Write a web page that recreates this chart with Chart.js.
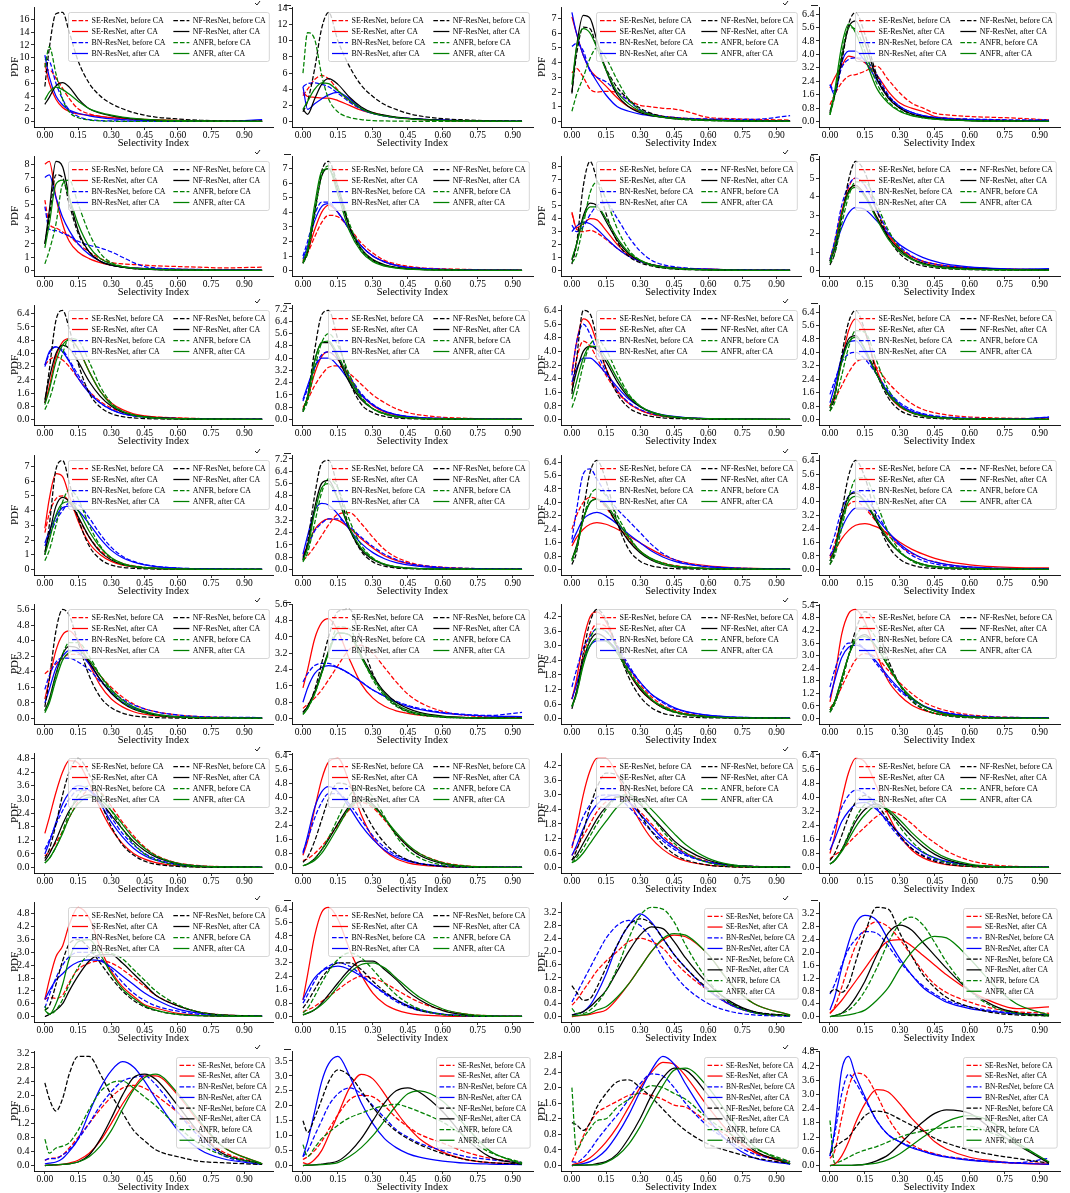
<!DOCTYPE html>
<html><head><meta charset="utf-8">
<script src="https://cdn.jsdelivr.net/npm/chart.js@4.4.0/dist/chart.umd.min.js"></script>
<style>
html,body{margin:0;padding:0;background:#fff;}
#wrap{position:relative;width:1070px;height:1193px;overflow:hidden;background:#fff;}
#wrap canvas{position:absolute;}
</style></head><body><div id="wrap"></div>
<script>
// ---------- shared data ----------
const X_GRID = [0, 0.02, 0.05, 0.08, 0.11, 0.15, 0.2, 0.25, 0.3, 0.35, 0.4, 0.45, 0.5, 0.6, 0.7, 0.8];
const X_END = [0.98, 0.94, 0.96, 0.94];
const X_TICKS = [0, 0.15, 0.30, 0.45, 0.60, 0.75, 0.90];
const NAMES = ['SE-ResNet, before CA','SE-ResNet, after CA','BN-ResNet, before CA','BN-ResNet, after CA','NF-ResNet, before CA','NF-ResNet, after CA','ANFR, before CA','ANFR, after CA'];
const COLORS = ['#ff0000','#ff0000','#0000ff','#0000ff','#000000','#000000','#008000','#008000'];
const DASHED = [true,false,true,false,true,false,true,false];

// y tick label sets
const YT_18 = ['0','2','4','6','8','10','12','14','16','18'];
const YT_14 = ['0','2','4','6','8','10','12','14'];
const YT_7 = ['0','1','2','3','4','5','6','7'];
const YT_8 = ['0','1','2','3','4','5','6','7','8'];
const YT_6 = ['0','1','2','3','4','5','6'];
const YT_64 = ['0.0','0.8','1.6','2.4','3.2','4.0','4.8','5.6','6.4'];
const YT_72 = ['0.0','0.8','1.6','2.4','3.2','4.0','4.8','5.6','6.4','7.2'];
const YT_56 = ['0.0','0.8','1.6','2.4','3.2','4.0','4.8','5.6'];
const YT_42 = ['0.0','0.6','1.2','1.8','2.4','3.0','3.6','4.2'];
const YT_54 = ['0.0','0.6','1.2','1.8','2.4','3.0','3.6','4.2','4.8','5.4'];
const YT_48 = ['0.0','0.6','1.2','1.8','2.4','3.0','3.6','4.2','4.8'];
const YT_32 = ['0.0','0.4','0.8','1.2','1.6','2.0','2.4','2.8','3.2'];
const YT_36 = ['0.0','0.4','0.8','1.2','1.6','2.0','2.4','2.8','3.2','3.6'];
const YT_35 = ['0.0','0.5','1.0','1.5','2.0','2.5','3.0','3.5'];
const YT_28 = ['0.0','0.4','0.8','1.2','1.6','2.0','2.4','2.8'];

const Y_TICKS = [YT_18,YT_14,YT_7,YT_64, YT_8,YT_7,YT_8,YT_6, YT_64,YT_72,YT_64,YT_64, YT_7,YT_72,YT_64,YT_64,
                 YT_56,YT_56,YT_42,YT_54, YT_48,YT_64,YT_42,YT_64, YT_48,YT_64,YT_32,YT_36, YT_32,YT_35,YT_28,YT_48];
const LEGEND_COLS = [2,2,2,2, 2,2,2,2, 2,2,2,2, 2,2,2,2, 2,2,2,2, 2,2,2,2, 2,2,1,1, 1,1,1,1];

// series order: SE before, SE after, BN before, BN after, NF before, NF after, ANFR before, ANFR after
const r1c1 = [
 [7.8,8.1,6.8,5.2,3.6,2.0,1.2,0.8,0.6,0.45,0.35,0.28,0.22,0.15,0.1,0.07,0.05],
 [9.2,6.0,3.5,2.2,1.6,1.2,1.0,0.8,0.6,0.5,0.4,0.33,0.27,0.18,0.12,0.08,0.05],
 [9.8,9.5,6.0,3.5,1.8,0.8,0.3,0.15,0.1,0.08,0.06,0.05,0.04,0.03,0.03,0.02,0.02],
 [10.4,7.0,4.0,2.6,1.8,1.3,0.9,0.6,0.4,0.3,0.22,0.17,0.13,0.09,0.06,0.05,0.3],
 [5.5,11.5,16.9,17.1,14.0,9.5,6.0,4.0,2.8,2.0,1.4,1.0,0.7,0.4,0.2,0.1,0.05],
 [2.7,3.8,5.6,6.1,5.4,3.6,2.0,1.3,0.9,0.6,0.4,0.3,0.2,0.1,0.05,0.03,0.02],
 [8.5,11.7,7.5,3.5,1.5,0.6,0.25,0.1,0.05,0.03,0.02,0.02,0.01,0.01,0.01,0.01,0.01],
 [3.4,4.6,5.4,5.0,4.3,3.2,2.0,1.4,1.0,0.7,0.5,0.35,0.25,0.15,0.1,0.06,0.04]];
const r1c2 = [
 [3.2,4.0,5.2,5.7,5.3,3.9,2.5,1.6,1.1,0.75,0.5,0.35,0.25,0.15,0.1,0.05,0.03],
 [3.6,3.1,3.0,2.9,2.9,2.6,2.0,1.4,1.0,0.7,0.5,0.4,0.3,0.15,0.08,0.05,0.03],
 [4.3,4.7,4.8,4.6,4.3,3.5,2.4,1.5,1.0,0.7,0.5,0.4,0.3,0.2,0.1,0.07,0.05],
 [4.3,1.5,2.2,2.8,3.3,3.6,2.8,1.6,1.0,0.7,0.5,0.4,0.3,0.2,0.1,0.07,0.05],
 [1.2,2.5,6.5,11.5,13.5,10.0,6.8,4.5,3.1,2.1,1.5,1.0,0.7,0.35,0.2,0.1,0.05],
 [1.5,0.9,2.8,4.6,5.3,4.6,3.0,1.8,1.1,0.8,0.55,0.4,0.3,0.15,0.1,0.05,0.03],
 [6.0,11.0,10.2,5.8,2.8,1.2,0.5,0.25,0.12,0.08,0.05,0.04,0.03,0.02,0.02,0.01,0.01],
 [1.5,2.5,4.0,4.8,4.7,3.8,2.6,1.6,1.0,0.7,0.5,0.35,0.25,0.12,0.07,0.04,0.02]];
const r1c3 = [
 [3.3,3.6,3.0,2.2,2.0,2.05,1.95,1.45,1.1,1.0,0.9,0.85,0.7,0.28,0.2,0.15,0.1],
 [7.1,6.0,4.5,3.5,3.0,2.4,1.6,1.0,0.7,0.5,0.35,0.28,0.22,0.15,0.1,0.07,0.05],
 [5.1,5.3,4.8,3.4,3.0,2.7,2.0,1.4,0.8,0.5,0.35,0.28,0.22,0.18,0.15,0.15,0.4],
 [7.4,6.0,4.5,3.5,2.7,1.8,1.0,0.7,0.5,0.38,0.3,0.22,0.18,0.12,0.08,0.06,0.05],
 [2.0,4.5,6.4,6.3,5.0,3.6,2.3,1.5,0.9,0.55,0.35,0.25,0.18,0.1,0.06,0.04,0.03],
 [1.9,5.0,7.2,7.0,5.5,3.5,1.8,1.0,0.6,0.4,0.28,0.2,0.15,0.08,0.05,0.03,0.02],
 [0.7,1.8,3.0,4.3,5.0,4.3,2.8,1.5,0.8,0.45,0.28,0.18,0.12,0.06,0.04,0.03,0.02],
 [2.5,5.0,6.3,6.0,5.0,3.5,2.0,1.2,0.7,0.45,0.3,0.22,0.16,0.09,0.05,0.03,0.02]];
const r1c4 = [
 [1.0,1.6,2.3,2.7,2.8,3.0,3.3,2.5,1.7,1.1,0.8,0.5,0.4,0.3,0.25,0.2,0.1],
 [2.0,2.6,3.3,3.9,3.8,3.5,2.8,1.8,1.1,0.8,0.6,0.3,0.2,0.12,0.08,0.05,0.04],
 [2.2,1.8,3.2,3.7,3.8,3.7,2.8,1.6,0.9,0.55,0.35,0.25,0.2,0.15,0.12,0.1,0.1],
 [2.2,1.6,3.5,4.2,4.2,3.6,2.5,1.5,0.9,0.55,0.35,0.25,0.18,0.12,0.08,0.06,0.05],
 [0.5,1.5,3.5,5.8,6.5,5.2,2.8,1.5,0.8,0.45,0.28,0.18,0.12,0.06,0.03,0.02,0.01],
 [0.6,1.6,3.8,5.6,6.0,4.7,2.6,1.4,0.8,0.45,0.28,0.18,0.12,0.06,0.03,0.02,0.01],
 [0.4,1.5,4.0,5.6,5.5,4.2,2.3,1.2,0.65,0.38,0.22,0.14,0.1,0.05,0.03,0.02,0.01],
 [0.4,1.8,4.5,5.8,5.3,3.8,2.0,1.1,0.6,0.35,0.22,0.14,0.1,0.05,0.03,0.02,0.01]];
const r2c1 = [
 [5.3,3.5,3.2,2.9,2.6,2.0,1.4,0.9,0.6,0.5,0.45,0.4,0.35,0.3,0.25,0.2,0.25],
 [8.0,8.2,5.5,3.5,2.2,1.4,0.9,0.6,0.4,0.28,0.2,0.15,0.12,0.08,0.06,0.05,0.04],
 [4.8,3.1,3.0,2.8,2.6,2.2,1.9,1.7,1.4,1.0,0.6,0.3,0.2,0.1,0.08,0.06,0.05],
 [7.0,7.2,5.5,4.0,3.0,2.0,1.2,0.7,0.4,0.28,0.2,0.15,0.12,0.08,0.06,0.05,0.04],
 [2.0,4.0,7.2,7.0,5.0,2.8,1.4,0.7,0.4,0.25,0.15,0.1,0.07,0.04,0.03,0.02,0.01],
 [2.0,4.5,8.2,7.8,5.5,3.0,1.4,0.7,0.4,0.25,0.15,0.1,0.07,0.04,0.03,0.02,0.01],
 [0.5,1.5,3.5,6.5,6.8,5.0,2.8,1.3,0.6,0.3,0.18,0.12,0.08,0.04,0.03,0.02,0.01],
 [1.7,3.5,6.5,6.8,5.5,3.5,1.8,0.9,0.5,0.3,0.18,0.12,0.08,0.04,0.03,0.02,0.01]];
const r2c2 = [
 [0.7,1.2,2.3,3.3,3.8,3.7,2.9,1.9,1.2,0.7,0.45,0.3,0.2,0.12,0.08,0.05,0.03],
 [0.6,1.3,2.8,4.0,4.5,4.0,2.8,1.7,1.0,0.6,0.35,0.22,0.15,0.08,0.05,0.03,0.02],
 [1.0,2.0,3.8,4.7,4.7,4.0,2.8,1.7,1.0,0.6,0.35,0.22,0.15,0.08,0.05,0.03,0.02],
 [0.8,1.7,3.4,4.4,4.6,4.0,2.8,1.7,1.0,0.6,0.35,0.22,0.15,0.08,0.05,0.03,0.02],
 [0.5,1.2,3.8,6.8,7.5,5.8,3.0,1.4,0.7,0.35,0.2,0.12,0.08,0.04,0.02,0.01,0.01],
 [0.5,1.3,4.0,6.5,7.0,5.5,3.0,1.5,0.75,0.4,0.22,0.13,0.08,0.04,0.02,0.01,0.01],
 [0.5,1.2,3.9,6.5,7.2,5.8,3.2,1.5,0.7,0.35,0.2,0.12,0.08,0.04,0.02,0.01,0.01],
 [0.6,1.5,4.5,6.8,7.0,5.2,2.7,1.3,0.6,0.3,0.17,0.1,0.06,0.03,0.02,0.01,0.01]];
const r2c3 = [
 [4.4,3.2,3.0,3.1,2.9,2.4,1.7,1.1,0.7,0.45,0.3,0.2,0.15,0.1,0.06,0.04,0.03],
 [4.5,3.3,3.6,4.0,3.9,3.1,2.0,1.2,0.75,0.45,0.3,0.2,0.15,0.1,0.06,0.04,0.03],
 [3.5,3.0,3.4,4.3,5.0,5.2,4.0,2.6,1.5,0.8,0.45,0.3,0.2,0.1,0.06,0.04,0.03],
 [3.0,3.4,3.7,3.6,3.2,2.5,1.7,1.1,0.7,0.45,0.3,0.2,0.15,0.1,0.06,0.04,0.03],
 [0.5,2.0,6.5,8.4,7.0,4.4,2.2,1.1,0.6,0.35,0.2,0.12,0.08,0.04,0.02,0.01,0.01],
 [0.8,2.0,4.2,5.2,5.0,3.8,2.3,1.3,0.75,0.45,0.28,0.18,0.12,0.06,0.03,0.02,0.01],
 [0.6,1.2,3.5,6.0,6.8,5.5,3.2,1.6,0.8,0.4,0.22,0.13,0.08,0.04,0.02,0.01,0.01],
 [0.9,2.0,4.0,4.9,4.9,4.0,2.5,1.4,0.8,0.45,0.28,0.18,0.12,0.06,0.03,0.02,0.01]];
const r2c4 = [
 [0.5,1.2,3.0,4.5,5.0,4.6,3.3,2.0,1.2,0.75,0.5,0.35,0.25,0.15,0.1,0.07,0.05],
 [0.6,1.5,3.2,4.3,4.6,4.0,2.9,1.9,1.2,0.75,0.5,0.35,0.25,0.15,0.1,0.07,0.05],
 [0.6,1.6,3.5,4.6,5.0,4.6,3.3,2.1,1.3,0.8,0.5,0.35,0.25,0.15,0.1,0.07,0.05],
 [0.5,1.2,2.3,3.1,3.4,3.3,2.7,2.0,1.4,1.0,0.7,0.5,0.35,0.2,0.12,0.08,0.1],
 [0.3,0.9,2.8,4.9,5.9,5.3,3.3,1.8,0.9,0.45,0.25,0.15,0.1,0.05,0.03,0.02,0.01],
 [0.5,1.2,3.0,4.3,4.6,4.1,2.9,1.8,1.1,0.65,0.4,0.25,0.18,0.1,0.06,0.04,0.03],
 [0.4,0.9,2.5,4.0,4.8,4.8,3.6,2.2,1.2,0.65,0.35,0.2,0.12,0.06,0.03,0.02,0.01],
 [0.5,1.3,3.0,4.2,4.5,4.0,2.8,1.7,1.0,0.6,0.35,0.22,0.15,0.08,0.05,0.03,0.02]];
const r3c1 = [
 [3.3,3.6,3.8,3.6,3.2,2.5,1.7,1.1,0.7,0.45,0.3,0.2,0.15,0.1,0.06,0.04,0.03],
 [1.0,2.0,3.8,4.7,4.9,4.3,2.9,1.7,1.0,0.6,0.35,0.22,0.15,0.08,0.05,0.03,0.02],
 [3.2,4.0,4.4,4.2,3.6,2.7,1.7,1.0,0.6,0.35,0.22,0.15,0.1,0.06,0.04,0.03,0.02],
 [3.3,4.1,4.4,4.1,3.5,2.5,1.6,1.0,0.6,0.35,0.22,0.15,0.1,0.06,0.04,0.03,0.02],
 [1.0,3.0,6.0,6.6,5.5,3.4,1.6,0.75,0.35,0.18,0.1,0.06,0.04,0.02,0.01,0.01,0.01],
 [1.2,2.5,4.0,4.5,4.3,3.5,2.3,1.4,0.8,0.45,0.27,0.17,0.11,0.06,0.03,0.02,0.01],
 [0.6,1.2,2.6,4.0,4.9,4.8,3.5,2.0,1.0,0.5,0.25,0.14,0.08,0.04,0.02,0.01,0.01],
 [0.9,1.8,3.5,4.5,4.8,4.3,2.9,1.7,0.9,0.5,0.28,0.17,0.1,0.05,0.03,0.02,0.01]];
const r3c2 = [
 [0.8,1.3,2.2,2.9,3.4,3.5,3.0,2.3,1.6,1.1,0.7,0.45,0.3,0.15,0.08,0.05,0.03],
 [0.7,1.4,3.0,4.1,4.4,3.9,2.7,1.6,0.9,0.5,0.3,0.18,0.12,0.06,0.04,0.02,0.02],
 [1.2,2.0,3.4,4.2,4.4,3.9,2.8,1.7,1.0,0.55,0.32,0.2,0.13,0.07,0.04,0.02,0.02],
 [1.3,2.2,3.4,4.0,4.0,3.5,2.5,1.6,0.95,0.55,0.32,0.2,0.13,0.07,0.04,0.02,0.02],
 [0.5,1.5,4.5,6.8,7.1,5.2,2.5,1.0,0.45,0.2,0.1,0.06,0.04,0.02,0.01,0.01,0.01],
 [0.6,1.5,3.8,5.0,5.0,4.0,2.4,1.3,0.7,0.38,0.2,0.12,0.08,0.04,0.02,0.01,0.01],
 [0.5,1.2,3.3,5.0,5.6,4.8,2.9,1.5,0.7,0.35,0.18,0.1,0.06,0.03,0.02,0.01,0.01],
 [0.6,1.5,3.8,5.0,5.1,4.2,2.6,1.4,0.7,0.38,0.2,0.12,0.08,0.04,0.02,0.01,0.01]];
const r3c3 = [
 [2.0,3.5,4.6,4.3,3.6,2.6,1.6,0.95,0.55,0.32,0.2,0.13,0.09,0.05,0.03,0.02,0.01],
 [2.8,4.5,5.9,5.6,4.5,3.0,1.7,0.95,0.55,0.32,0.2,0.13,0.09,0.05,0.03,0.02,0.01],
 [2.6,4.5,5.6,5.0,4.0,2.8,1.7,1.0,0.6,0.35,0.22,0.14,0.09,0.05,0.03,0.02,0.01],
 [2.2,3.0,3.6,3.6,3.3,2.7,1.9,1.2,0.75,0.45,0.28,0.18,0.12,0.06,0.03,0.02,0.01],
 [1.5,3.5,6.4,6.2,4.8,3.0,1.5,0.7,0.35,0.18,0.1,0.06,0.04,0.02,0.01,0.01,0.01],
 [1.7,2.8,4.0,4.3,4.1,3.4,2.2,1.3,0.75,0.42,0.25,0.15,0.1,0.05,0.03,0.02,0.01],
 [0.7,1.5,3.2,4.4,4.7,4.1,2.7,1.5,0.8,0.42,0.22,0.13,0.08,0.04,0.02,0.01,0.01],
 [1.2,2.2,3.6,4.3,4.3,3.6,2.4,1.4,0.8,0.45,0.26,0.16,0.1,0.05,0.03,0.02,0.01]];
const r3c4 = [
 [0.8,1.2,2.0,2.8,3.4,3.6,3.1,2.2,1.5,0.95,0.6,0.4,0.28,0.15,0.1,0.07,0.05],
 [0.8,1.5,3.5,5.3,6.0,5.2,3.0,1.5,0.75,0.4,0.22,0.13,0.09,0.05,0.03,0.02,0.01],
 [1.5,2.3,3.4,3.9,4.0,3.6,2.7,1.7,1.0,0.6,0.35,0.22,0.15,0.08,0.05,0.03,0.15],
 [1.0,2.0,3.7,4.6,4.7,4.0,2.7,1.6,0.9,0.5,0.3,0.18,0.12,0.06,0.04,0.03,0.15],
 [0.5,1.3,3.8,5.8,6.5,5.3,2.8,1.3,0.55,0.25,0.12,0.07,0.04,0.02,0.01,0.01,0.01],
 [0.7,1.5,3.5,4.8,5.0,4.2,2.7,1.5,0.8,0.42,0.23,0.14,0.09,0.04,0.02,0.01,0.01],
 [0.5,1.0,2.6,4.3,5.3,5.2,3.5,1.8,0.85,0.4,0.2,0.11,0.07,0.03,0.02,0.01,0.01],
 [0.7,1.5,3.4,4.6,4.9,4.2,2.7,1.5,0.8,0.42,0.23,0.14,0.09,0.04,0.02,0.01,0.01]];
const r4c1 = [
 [2.5,3.8,4.8,5.0,4.6,3.5,2.2,1.3,0.75,0.42,0.25,0.15,0.1,0.05,0.03,0.02,0.01],
 [2.8,4.8,6.5,6.3,5.0,3.3,1.8,1.0,0.55,0.3,0.18,0.11,0.07,0.04,0.02,0.01,0.01],
 [1.6,2.3,3.3,4.0,4.5,4.4,3.5,2.4,1.5,0.9,0.55,0.35,0.22,0.1,0.06,0.04,0.03],
 [1.8,2.6,3.6,4.2,4.3,4.0,3.1,2.1,1.3,0.8,0.5,0.32,0.2,0.1,0.06,0.04,0.03],
 [1.0,3.0,6.8,7.4,5.9,3.5,1.6,0.7,0.3,0.15,0.08,0.05,0.03,0.02,0.01,0.01,0.01],
 [1.2,2.4,4.3,4.9,4.6,3.6,2.2,1.2,0.65,0.35,0.2,0.12,0.08,0.04,0.02,0.01,0.01],
 [0.6,1.3,3.0,4.6,5.4,4.8,3.0,1.6,0.75,0.35,0.18,0.1,0.06,0.03,0.02,0.01,0.01],
 [1.0,2.0,3.7,4.5,4.6,4.0,2.6,1.5,0.8,0.42,0.23,0.14,0.09,0.04,0.02,0.01,0.01]];
const r4c2 = [
 [0.6,0.9,1.5,2.2,2.9,3.6,3.7,3.0,2.1,1.3,0.8,0.5,0.3,0.15,0.08,0.05,0.03],
 [0.9,1.6,2.6,3.1,3.3,3.2,2.7,2.0,1.4,0.9,0.6,0.4,0.25,0.12,0.06,0.04,0.03],
 [0.8,1.5,2.5,3.0,3.3,3.3,2.8,2.1,1.5,1.0,0.65,0.42,0.28,0.14,0.08,0.05,0.04],
 [1.0,2.2,3.8,4.3,4.2,3.6,2.6,1.7,1.1,0.7,0.45,0.3,0.2,0.1,0.06,0.04,0.03],
 [0.6,1.8,4.8,6.9,7.1,5.3,2.7,1.2,0.5,0.22,0.1,0.06,0.04,0.02,0.01,0.01,0.01],
 [0.7,1.6,4.0,5.6,5.8,4.6,2.6,1.3,0.65,0.32,0.17,0.1,0.06,0.03,0.02,0.01,0.01],
 [0.5,1.1,3.0,5.0,5.9,5.3,3.2,1.6,0.75,0.35,0.17,0.1,0.06,0.03,0.02,0.01,0.01],
 [0.6,1.4,3.7,5.3,5.6,4.6,2.7,1.4,0.7,0.35,0.18,0.1,0.06,0.03,0.02,0.01,0.01]];
const r4c3 = [
 [2.4,3.2,4.0,4.3,4.2,3.7,2.7,1.8,1.1,0.65,0.4,0.25,0.16,0.08,0.05,0.03,0.02],
 [1.4,1.9,2.4,2.7,2.8,2.7,2.4,2.0,1.6,1.2,0.85,0.6,0.42,0.22,0.12,0.07,0.05],
 [1.8,3.5,5.7,6.0,5.4,4.5,3.6,2.9,2.2,1.5,0.95,0.6,0.38,0.18,0.1,0.06,0.04],
 [1.6,2.2,3.0,3.3,3.4,3.2,2.7,2.1,1.6,1.1,0.75,0.5,0.33,0.16,0.09,0.06,0.04],
 [0.3,1.0,3.5,5.8,6.5,5.3,2.8,1.2,0.5,0.22,0.1,0.06,0.04,0.02,0.01,0.01,0.01],
 [0.6,1.4,3.0,4.0,4.2,3.8,2.7,1.7,1.0,0.55,0.3,0.18,0.11,0.05,0.03,0.02,0.01],
 [0.5,1.2,3.0,4.4,4.8,4.4,3.2,2.0,1.1,0.6,0.32,0.18,0.11,0.05,0.03,0.02,0.01],
 [0.6,1.3,3.0,4.0,4.2,3.9,2.9,1.9,1.1,0.65,0.38,0.22,0.14,0.06,0.03,0.02,0.01]];
const r4c4 = [
 [0.8,1.5,3.0,3.8,4.0,3.6,2.8,2.0,1.4,0.95,0.65,0.45,0.3,0.15,0.08,0.05,0.03],
 [0.7,1.1,1.8,2.3,2.6,2.7,2.5,2.1,1.6,1.2,0.9,0.65,0.48,0.28,0.17,0.12,0.1],
 [1.2,2.0,3.5,4.3,4.6,4.3,3.3,2.2,1.4,0.85,0.52,0.33,0.22,0.1,0.06,0.04,0.03],
 [0.8,1.3,2.4,3.2,3.6,3.6,3.0,2.2,1.5,1.0,0.65,0.43,0.3,0.15,0.09,0.06,0.05],
 [0.3,1.0,3.3,5.5,6.4,5.4,3.0,1.4,0.6,0.27,0.12,0.07,0.04,0.02,0.01,0.01,0.01],
 [0.5,1.2,3.0,4.3,4.5,4.0,2.8,1.7,1.0,0.55,0.3,0.18,0.11,0.05,0.03,0.02,0.01],
 [0.3,0.8,2.4,4.2,5.3,5.4,3.9,2.2,1.1,0.5,0.25,0.13,0.08,0.04,0.02,0.01,0.01],
 [0.5,1.1,2.8,4.0,4.3,4.0,2.9,1.8,1.0,0.55,0.3,0.18,0.11,0.05,0.03,0.02,0.01]];
const r5c1 = [
 [2.3,2.5,2.8,3.1,3.3,3.3,2.9,2.2,1.6,1.1,0.75,0.5,0.35,0.18,0.1,0.06,0.04],
 [1.0,2.0,3.5,4.3,4.5,4.0,2.8,1.7,1.0,0.6,0.35,0.22,0.14,0.07,0.04,0.02,0.01],
 [1.5,2.2,2.9,3.1,3.1,2.9,2.5,1.9,1.4,1.0,0.7,0.5,0.35,0.18,0.1,0.07,0.05],
 [0.8,1.5,2.6,3.2,3.5,3.4,2.8,2.0,1.3,0.85,0.55,0.35,0.22,0.1,0.06,0.04,0.03],
 [0.6,2.0,4.5,5.6,5.3,3.9,2.2,1.1,0.55,0.28,0.14,0.08,0.05,0.02,0.01,0.01,0.01],
 [0.4,1.0,2.3,3.3,3.7,3.6,2.9,2.0,1.3,0.8,0.48,0.3,0.18,0.08,0.04,0.02,0.01],
 [0.4,0.9,2.2,3.3,3.9,3.9,3.2,2.2,1.4,0.85,0.5,0.3,0.18,0.07,0.03,0.02,0.01],
 [0.3,0.8,2.0,3.0,3.4,3.5,3.0,2.2,1.5,0.95,0.6,0.38,0.23,0.1,0.05,0.03,0.02]];
const r5c2 = [
 [0.5,0.7,1.0,1.4,1.9,2.6,3.4,3.6,3.2,2.5,1.8,1.2,0.8,0.35,0.15,0.08,0.05],
 [1.5,2.4,3.9,4.7,4.9,4.3,2.9,1.7,1.0,0.6,0.38,0.25,0.17,0.09,0.05,0.03,0.02],
 [1.8,2.2,2.6,2.7,2.7,2.5,2.2,1.8,1.4,1.1,0.85,0.65,0.5,0.3,0.2,0.15,0.3],
 [0.8,1.5,2.2,2.5,2.6,2.5,2.2,1.8,1.4,1.1,0.8,0.6,0.45,0.27,0.18,0.12,0.1],
 [0.3,0.6,1.4,2.7,4.0,5.25,5.35,3.8,2.2,1.2,0.65,0.35,0.2,0.07,0.03,0.02,0.01],
 [0.3,0.6,1.3,2.3,3.3,4.2,4.1,3.1,2.1,1.3,0.8,0.5,0.3,0.12,0.05,0.03,0.02],
 [0.2,0.5,1.2,2.2,3.3,4.5,4.4,3.1,1.9,1.1,0.6,0.33,0.18,0.06,0.03,0.02,0.01],
 [0.2,0.5,1.2,2.2,3.2,4.2,4.1,3.0,2.0,1.2,0.7,0.4,0.24,0.09,0.04,0.02,0.01]];
const r5c3 = [
 [0.8,1.4,2.6,3.5,3.9,3.8,3.0,2.1,1.4,0.9,0.55,0.35,0.22,0.1,0.05,0.03,0.02],
 [0.8,1.6,3.2,4.2,4.4,4.0,2.9,1.9,1.2,0.75,0.45,0.28,0.18,0.08,0.04,0.02,0.02],
 [1.3,2.0,2.9,3.4,3.7,3.6,3.0,2.2,1.5,1.0,0.65,0.42,0.28,0.13,0.06,0.04,0.03],
 [0.8,1.4,2.4,3.0,3.2,3.2,2.8,2.1,1.5,1.0,0.7,0.45,0.3,0.14,0.07,0.04,0.03],
 [0.4,1.1,2.7,4.0,4.5,4.1,2.9,1.7,0.9,0.45,0.22,0.12,0.07,0.03,0.02,0.01,0.01],
 [0.5,1.1,2.4,3.2,3.5,3.3,2.7,1.9,1.2,0.75,0.45,0.27,0.17,0.07,0.03,0.02,0.01],
 [0.5,1.0,2.3,3.3,3.7,3.6,2.9,2.0,1.3,0.8,0.45,0.26,0.15,0.06,0.03,0.02,0.01],
 [0.5,1.0,2.2,3.0,3.3,3.2,2.7,1.9,1.3,0.8,0.5,0.3,0.18,0.08,0.04,0.02,0.01]];
const r5c4 = [
 [0.5,0.8,1.5,2.2,2.8,3.1,2.9,2.3,1.7,1.2,0.8,0.55,0.38,0.18,0.09,0.05,0.03],
 [0.8,1.9,4.0,5.0,5.2,4.6,3.1,1.8,1.1,0.65,0.4,0.25,0.16,0.07,0.04,0.02,0.02],
 [1.5,2.3,3.2,3.6,3.6,3.3,2.6,1.9,1.3,0.9,0.6,0.4,0.28,0.13,0.07,0.05,0.04],
 [1.0,1.8,2.9,3.4,3.5,3.3,2.7,2.0,1.4,0.95,0.62,0.4,0.26,0.12,0.06,0.04,0.03],
 [0.3,0.7,1.7,3.0,4.2,5.1,4.4,2.8,1.6,0.85,0.45,0.24,0.13,0.04,0.02,0.01,0.01],
 [0.4,0.8,1.9,3.0,3.7,4.0,3.4,2.5,1.6,1.0,0.6,0.35,0.2,0.08,0.03,0.02,0.01],
 [0.3,0.7,1.7,3.0,3.9,4.4,3.8,2.6,1.6,0.9,0.48,0.25,0.14,0.05,0.02,0.01,0.01],
 [0.4,0.8,1.9,3.0,3.7,3.9,3.4,2.5,1.6,1.0,0.6,0.35,0.2,0.08,0.03,0.02,0.01]];
const r6c1 = [
 [0.5,0.7,1.1,1.6,2.2,2.9,3.4,3.3,2.7,2.0,1.4,0.9,0.55,0.2,0.08,0.04,0.02],
 [1.5,2.2,3.3,4.2,4.7,4.6,3.7,2.6,1.7,1.05,0.62,0.37,0.22,0.08,0.03,0.02,0.01],
 [0.8,1.2,1.9,2.5,3.0,3.4,3.4,2.9,2.2,1.5,1.0,0.62,0.38,0.14,0.05,0.03,0.02],
 [0.6,1.1,2.0,2.8,3.3,3.6,3.4,2.8,2.0,1.35,0.85,0.52,0.32,0.12,0.05,0.03,0.02],
 [0.4,0.8,1.9,3.2,4.2,4.8,4.1,2.9,1.8,1.0,0.55,0.28,0.15,0.05,0.02,0.01,0.01],
 [0.3,0.6,1.2,1.9,2.5,3.0,3.2,2.9,2.3,1.7,1.15,0.75,0.47,0.17,0.06,0.03,0.01],
 [0.2,0.4,0.9,1.6,2.4,3.2,3.6,3.3,2.5,1.7,1.05,0.6,0.34,0.1,0.03,0.02,0.01],
 [0.2,0.4,0.9,1.5,2.2,2.8,3.1,3.0,2.5,1.9,1.3,0.85,0.52,0.18,0.06,0.03,0.01]];
const r6c2 = [
 [0.4,0.5,0.8,1.2,1.7,2.4,3.3,3.7,3.4,2.7,1.9,1.25,0.8,0.3,0.1,0.04,0.02],
 [0.7,1.5,3.3,5.0,6.0,6.2,4.8,3.0,1.7,0.95,0.5,0.27,0.15,0.05,0.02,0.01,0.01],
 [0.9,1.6,2.8,3.7,4.2,4.2,3.6,2.7,1.8,1.15,0.7,0.42,0.25,0.09,0.04,0.02,0.02],
 [0.8,1.8,3.4,4.3,4.6,4.3,3.4,2.4,1.6,1.0,0.6,0.36,0.22,0.08,0.03,0.02,0.01],
 [0.3,0.6,1.5,2.7,3.9,4.8,4.6,3.5,2.3,1.4,0.8,0.43,0.23,0.07,0.02,0.01,0.01],
 [0.1,0.2,0.5,1.0,1.6,2.5,3.5,4.0,3.6,2.8,1.9,1.2,0.7,0.22,0.06,0.02,0.01],
 [0.1,0.2,0.5,1.0,1.7,2.8,4.1,4.6,4.0,2.9,1.8,1.0,0.55,0.14,0.04,0.02,0.01],
 [0.1,0.2,0.4,0.8,1.4,2.3,3.4,3.8,3.5,2.8,2.0,1.3,0.8,0.27,0.08,0.03,0.01]];
const r6c3 = [
 [0.5,0.8,1.3,1.8,2.3,2.7,2.9,2.7,2.3,1.8,1.3,0.9,0.6,0.25,0.1,0.05,0.03],
 [0.8,1.6,3.0,4.0,4.5,4.5,3.8,2.8,1.9,1.2,0.75,0.45,0.27,0.1,0.04,0.02,0.01],
 [0.9,1.4,2.1,2.6,2.9,3.0,2.9,2.5,2.0,1.5,1.1,0.75,0.5,0.22,0.1,0.05,0.03],
 [0.5,0.9,1.6,2.2,2.6,2.9,3.0,2.7,2.2,1.7,1.2,0.85,0.55,0.22,0.09,0.04,0.02],
 [0.3,0.7,1.5,2.5,3.3,3.9,3.8,3.1,2.2,1.5,0.95,0.55,0.32,0.1,0.03,0.01,0.01],
 [0.3,0.5,1.0,1.5,2.0,2.5,2.9,2.9,2.6,2.1,1.6,1.1,0.75,0.3,0.1,0.04,0.02],
 [0.2,0.4,0.8,1.3,1.8,2.4,2.9,3.0,2.7,2.1,1.5,1.0,0.62,0.2,0.06,0.02,0.01],
 [0.2,0.3,0.6,1.0,1.4,1.9,2.5,2.8,2.8,2.4,1.9,1.4,0.95,0.38,0.12,0.04,0.02]];
const r6c4 = [
 [0.5,0.7,1.0,1.4,1.8,2.3,2.9,3.2,3.0,2.5,1.9,1.4,0.95,0.4,0.15,0.06,0.03],
 [0.8,1.8,3.8,5.4,6.2,6.0,4.6,3.0,1.8,1.0,0.55,0.3,0.17,0.06,0.02,0.01,0.01],
 [1.5,2.3,3.4,4.1,4.4,4.2,3.4,2.5,1.7,1.1,0.7,0.45,0.28,0.12,0.05,0.03,0.02],
 [1.0,1.6,2.6,3.2,3.6,3.7,3.3,2.6,1.9,1.3,0.85,0.55,0.35,0.14,0.06,0.03,0.02],
 [0.4,0.8,1.8,2.9,3.7,4.1,3.6,2.7,1.8,1.1,0.65,0.37,0.2,0.06,0.02,0.01,0.01],
 [0.2,0.4,1.0,1.8,2.6,3.3,3.6,3.2,2.5,1.8,1.2,0.75,0.45,0.15,0.05,0.02,0.01],
 [0.2,0.4,1.0,1.9,2.8,3.6,3.8,3.2,2.3,1.5,0.9,0.52,0.3,0.09,0.03,0.01,0.01],
 [0.2,0.4,0.9,1.6,2.3,3.0,3.5,3.3,2.7,2.0,1.4,0.9,0.55,0.2,0.06,0.02,0.01]];
const r7c1 = [
 [0.8,0.9,0.85,1.0,1.6,2.2,2.5,2.6,2.5,2.2,1.8,1.4,1.0,0.5,0.2,0.08,0.02],
 [0.8,1.7,2.8,3.3,4.3,5.1,4.6,3.2,2.1,1.4,0.95,0.55,0.4,0.15,0.05,0.02,0.01],
 [0.4,1.0,1.8,2.4,2.8,3.0,3.0,2.7,2.2,1.6,1.1,0.75,0.5,0.25,0.1,0.04,0.02],
 [0.8,1.2,1.7,2.0,2.3,2.55,2.65,2.6,2.3,1.9,1.5,1.1,0.8,0.35,0.15,0.06,0.02],
 [0.3,0.5,1.5,2.6,3.4,3.6,3.2,2.5,1.8,1.2,0.75,0.45,0.28,0.1,0.04,0.02,0.01],
 [0.0,0.1,0.3,0.6,1.2,1.9,2.6,2.9,2.9,2.5,2.0,1.5,1.0,0.5,0.2,0.08,0.02],
 [0.5,0.1,0.3,0.8,1.5,2.3,2.9,3.0,2.95,2.7,2.2,1.7,1.2,0.55,0.2,0.07,0.02],
 [0.3,0.1,0.6,1.5,2.7,3.5,3.6,2.9,2.0,1.3,0.85,0.5,0.3,0.1,0.04,0.02,0.01]];
const r7c2 = [
 [0.3,0.4,0.6,0.9,1.2,1.6,2.1,2.4,2.3,2.0,1.6,1.2,0.85,0.4,0.15,0.05,0.02],
 [1.0,2.5,4.8,6.2,6.5,5.8,4.0,2.5,1.4,0.75,0.4,0.2,0.1,0.03,0.01,0.01,0.01],
 [0.8,1.3,2.1,2.7,3.0,3.2,3.0,2.5,1.9,1.35,0.9,0.58,0.36,0.13,0.05,0.02,0.01],
 [1.0,1.6,2.3,2.7,2.9,3.0,2.8,2.4,1.9,1.4,1.0,0.65,0.42,0.15,0.05,0.02,0.01],
 [0.5,0.9,1.6,2.3,2.8,3.2,3.2,2.8,2.1,1.5,1.0,0.62,0.37,0.12,0.04,0.01,0.01],
 [0.1,0.2,0.4,0.8,1.3,2.0,2.8,3.3,3.3,2.8,2.2,1.5,1.0,0.35,0.1,0.03,0.01],
 [0.2,0.5,1.2,2.0,2.7,3.4,3.8,3.5,2.8,2.0,1.3,0.8,0.45,0.13,0.04,0.01,0.01],
 [0.1,0.2,0.4,0.7,1.1,1.8,2.6,3.1,3.2,2.9,2.3,1.7,1.15,0.45,0.14,0.04,0.01]];
const r7c3 = [
 [0.35,0.5,0.8,1.1,1.4,1.7,2.0,2.3,2.4,2.3,2.1,1.7,1.35,0.8,0.35,0.12,0.02],
 [0.0,0.02,0.04,0.07,0.12,0.2,0.55,1.0,1.5,2.0,2.35,2.5,2.45,1.9,1.0,0.4,0.05],
 [0.45,0.7,1.1,1.5,1.9,2.4,2.8,2.95,2.8,2.4,1.8,1.3,0.9,0.4,0.15,0.05,0.01],
 [0.05,0.08,0.15,0.35,0.7,1.3,2.2,2.8,3.15,2.9,2.4,1.9,1.5,0.8,0.35,0.12,0.02],
 [0.95,0.75,0.5,0.55,0.9,1.5,2.2,2.8,3.0,2.85,2.4,1.9,1.5,0.85,0.4,0.15,0.03],
 [0.05,0.08,0.15,0.3,0.5,0.8,1.4,2.0,2.5,2.75,2.7,2.3,1.8,1.0,0.45,0.15,0.02],
 [0.25,0.1,0.1,0.2,0.4,0.8,1.5,2.4,3.1,3.35,3.3,2.9,2.2,1.1,0.4,0.12,0.02],
 [0.02,0.03,0.05,0.1,0.2,0.3,0.6,1.0,1.5,2.0,2.4,2.55,2.5,1.9,1.0,0.4,0.05]];
const r7c4 = [
 [0.1,0.3,0.9,1.6,2.2,2.7,2.95,2.8,2.4,1.9,1.4,1.0,0.75,0.45,0.25,0.15,0.1],
 [0.1,0.25,0.5,0.8,1.1,1.5,2.0,2.35,2.4,2.2,1.9,1.6,1.3,0.8,0.45,0.25,0.3],
 [0.7,1.0,1.6,2.1,2.4,2.65,2.6,2.2,1.7,1.3,0.95,0.7,0.5,0.3,0.18,0.1,0.05],
 [0.2,0.6,1.5,2.3,2.9,3.15,3.0,2.4,1.8,1.3,0.9,0.65,0.45,0.25,0.15,0.08,0.05],
 [0.75,0.85,0.75,1.0,1.7,2.6,3.4,3.35,2.6,1.9,1.3,0.9,0.6,0.3,0.12,0.05,0.02],
 [0.0,0.03,0.1,0.3,0.6,1.1,1.9,2.6,2.85,2.7,2.3,1.9,1.5,0.8,0.35,0.12,0.03],
 [0.0,0.03,0.1,0.2,0.4,0.8,1.5,2.3,2.9,3.1,2.85,2.3,1.7,0.8,0.3,0.1,0.02],
 [0.0,0.01,0.02,0.05,0.1,0.2,0.5,0.9,1.5,2.0,2.35,2.5,2.45,1.8,1.0,0.4,0.05]];
const r8c1 = [
 [0.15,0.2,0.22,0.3,0.5,0.8,1.2,1.6,1.95,2.2,2.28,2.2,2.0,1.5,0.9,0.4,0.05],
 [0.0,0.01,0.02,0.03,0.07,0.15,0.35,0.7,1.2,1.75,2.2,2.55,2.55,2.0,1.2,0.55,0.05],
 [0.15,0.2,0.2,0.3,0.45,0.75,1.2,1.7,2.1,2.4,2.5,2.55,2.3,1.5,0.8,0.3,0.05],
 [0.05,0.07,0.1,0.2,0.4,0.75,1.5,2.2,2.7,2.95,2.8,2.4,1.9,1.0,0.45,0.2,0.03],
 [2.35,1.9,1.55,1.9,2.6,3.1,3.1,2.6,2.0,1.5,1.0,0.7,0.45,0.25,0.12,0.08,0.03],
 [0.0,0.01,0.02,0.03,0.05,0.1,0.3,0.75,1.35,2.0,2.5,2.6,2.45,1.7,0.9,0.35,0.05],
 [0.75,0.35,0.5,0.55,0.65,1.0,1.6,2.1,2.35,2.4,2.2,1.95,1.7,1.1,0.6,0.3,0.05],
 [0.0,0.01,0.02,0.03,0.05,0.1,0.25,0.55,1.0,1.6,2.15,2.5,2.6,2.05,1.25,0.55,0.05]];
const r8c2 = [
 [0.2,0.3,0.5,0.8,1.2,1.7,2.2,2.35,2.3,2.0,1.6,1.3,1.05,0.75,0.45,0.25,0.1],
 [0.1,0.05,0.2,0.5,1.0,1.7,2.6,3.05,2.9,2.4,1.8,1.3,0.9,0.45,0.2,0.1,0.05],
 [0.3,0.5,1.0,1.5,2.0,2.4,2.6,2.4,2.0,1.6,1.2,0.95,0.75,0.5,0.3,0.2,0.1],
 [0.3,0.8,1.8,2.8,3.4,3.65,3.0,2.1,1.4,0.9,0.6,0.4,0.28,0.15,0.08,0.05,0.03],
 [1.5,1.1,1.6,2.2,2.8,3.2,3.0,2.5,1.95,1.5,1.15,0.9,0.7,0.4,0.2,0.1,0.05],
 [0.0,0.01,0.02,0.05,0.08,0.15,0.45,0.9,1.5,2.1,2.5,2.6,2.45,1.8,0.9,0.3,0.05],
 [0.7,0.3,0.6,0.9,1.1,1.35,1.6,1.75,1.9,2.0,2.05,1.95,1.8,1.45,0.95,0.45,0.1],
 [0.0,0.01,0.02,0.03,0.05,0.1,0.3,0.6,1.0,1.5,2.0,2.4,2.5,2.15,1.3,0.5,0.05]];
const r8c3 = [
 [0.1,0.35,0.75,1.1,1.35,1.5,1.65,1.8,1.85,1.8,1.7,1.55,1.5,1.1,0.7,0.35,0.1],
 [0.02,0.05,0.1,0.2,0.35,0.6,1.0,1.5,2.0,2.4,2.65,2.6,2.3,1.5,0.8,0.35,0.05],
 [0.1,0.08,0.2,0.4,0.65,0.95,1.3,1.7,2.1,2.35,2.3,2.0,1.6,1.0,0.6,0.3,0.1],
 [0.0,0.02,0.05,0.1,0.2,0.4,0.8,1.3,1.9,2.45,2.8,2.6,2.1,1.2,0.55,0.2,0.03],
 [1.1,1.05,0.9,1.1,1.5,1.85,2.15,2.2,2.0,1.75,1.45,1.15,0.9,0.55,0.35,0.2,0.05],
 [0.0,0.01,0.01,0.02,0.05,0.1,0.3,0.7,1.2,1.8,2.25,2.5,2.45,1.8,1.0,0.4,0.05],
 [2.0,0.4,0.7,0.95,1.15,1.2,1.5,1.7,1.9,2.05,2.0,1.85,1.7,1.2,0.8,0.45,0.1],
 [0.0,0.01,0.01,0.02,0.02,0.08,0.25,0.55,1.0,1.55,2.05,2.45,2.5,2.0,1.2,0.5,0.05]];
const r8c4 = [
 [0.3,0.6,2.0,3.3,3.9,3.8,3.0,2.0,1.3,0.9,0.65,0.5,0.38,0.25,0.15,0.1,0.1],
 [0.0,0.05,0.4,1.0,1.8,2.6,3.2,3.1,2.6,2.0,1.5,1.0,0.7,0.35,0.2,0.1,0.05],
 [0.4,1.3,3.0,3.85,3.5,2.8,1.9,1.3,1.0,0.8,0.6,0.48,0.38,0.25,0.17,0.12,0.3],
 [0.4,1.5,4.0,4.6,3.8,2.9,1.9,1.3,1.0,0.75,0.6,0.45,0.35,0.22,0.15,0.1,0.05],
 [0.5,0.75,1.0,1.2,1.6,2.1,2.3,2.2,1.95,1.7,1.45,1.15,0.95,0.65,0.45,0.3,0.1],
 [0.0,0.01,0.01,0.01,0.02,0.05,0.2,0.45,0.9,1.4,1.85,2.2,2.35,2.2,1.5,0.9,0.1],
 [1.9,0.1,0.2,0.35,0.5,0.65,0.8,1.0,1.2,1.35,1.45,1.55,1.6,1.65,1.35,0.9,0.15],
 [0.0,0.01,0.01,0.01,0.02,0.05,0.1,0.25,0.5,0.85,1.2,1.55,1.85,2.1,1.8,1.0,0.15]];

const PANELS = [r1c1,r1c2,r1c3,r1c4, r2c1,r2c2,r2c3,r2c4, r3c1,r3c2,r3c3,r3c4, r4c1,r4c2,r4c3,r4c4,
                r5c1,r5c2,r5c3,r5c4, r6c1,r6c2,r6c3,r6c4, r7c1,r7c2,r7c3,r7c4, r8c1,r8c2,r8c3,r8c4];

// ---------- layout ----------
const COL_LEFT = [34, 292, 561, 819];
const COL_RIGHT = [273, 533, 801, 1060];
const ROW_BOTTOM0 = 127, ROW_STEP = 149.2, PLOT_H = 120;
const PADT = 10, PADR = 10, XH = 34;
const FONT = '"Liberation Serif", "Times New Roman", serif';
const LW = 1.25, DASH = [4.6, 2.0];

function rr(ctx, x, y, w, h, r) {
  ctx.moveTo(x + r, y); ctx.lineTo(x + w - r, y); ctx.arcTo(x + w, y, x + w, y + r, r);
  ctx.lineTo(x + w, y + h - r); ctx.arcTo(x + w, y + h, x + w - r, y + h, r);
  ctx.lineTo(x + r, y + h); ctx.arcTo(x, y + h, x, y + h - r, r);
  ctx.lineTo(x, y + r); ctx.arcTo(x, y, x + r, y, r); ctx.closePath();
}

const insetPlugin = {
  id: 'inset',
  afterDatasetsDraw(chart, args, opts) {
    const ctx = chart.ctx, a = chart.chartArea;
    const cols = opts.cols, rows = 8 / cols;
    const one = cols === 1;
    const size = one ? 7.4 : 7.9;
    ctx.save();
    ctx.font = size + 'px ' + FONT;
    const colW = [];
    for (let cc = 0; cc < cols; cc++) {
      let m = 0;
      for (let r = 0; r < rows; r++) m = Math.max(m, ctx.measureText(NAMES[cc * rows + r]).width);
      colW.push(m);
    }
    const HL = one ? 15 : 16, HG = 3.5, PX = one ? 3 : 3.5, CG = 8, RH = one ? 10.7 : 11, PY = 2.5;
    let w = PX * 2 + CG * (cols - 1);
    colW.forEach(m => { w += HL + HG + m; });
    const h = PY * 2 + RH * rows;
    const x0 = Math.round(a.right - (one ? 3 : 4) - w) + 0.5, y0 = Math.round(a.top + (one ? 6 : 5)) + 0.5;
    ctx.beginPath(); rr(ctx, x0, y0, w, h, 2);
    ctx.fillStyle = 'rgba(255,255,255,0.8)'; ctx.fill();
    ctx.strokeStyle = 'rgba(204,204,204,0.8)'; ctx.lineWidth = 1; ctx.stroke();
    let cx = x0 + PX;
    for (let cc = 0; cc < cols; cc++) {
      for (let r = 0; r < rows; r++) {
        const k = cc * rows + r;
        const cy = y0 + PY + RH * (r + 0.5);
        ctx.beginPath(); ctx.setLineDash(DASHED[k] ? DASH : []);
        ctx.moveTo(cx, cy); ctx.lineTo(cx + HL, cy);
        ctx.strokeStyle = COLORS[k]; ctx.lineWidth = LW; ctx.stroke();
        ctx.setLineDash([]);
        ctx.fillStyle = '#000'; ctx.textAlign = 'left'; ctx.textBaseline = 'middle';
        ctx.fillText(NAMES[k], cx + HL + HG, cy + 0.5);
      }
      cx += HL + HG + colW[cc] + CG;
    }
    ctx.restore();
  },
  afterDraw(chart, args, opts) {
    const ctx = chart.ctx, a = chart.chartArea;
    ctx.save();
    ctx.fillStyle = '#000';
    ctx.font = '10.5px ' + FONT;
    ctx.textAlign = 'center'; ctx.textBaseline = 'middle';
    ctx.fillText('Selectivity Index', (a.left + a.right) / 2, a.bottom + 16);
    if (opts.ylabel) {
      ctx.translate(a.left - 19, (a.top + a.bottom) / 2);
      ctx.rotate(-Math.PI / 2);
      ctx.font = '11px ' + FONT;
      ctx.fillText('PDF', 0, 0);
      ctx.setTransform(1, 0, 0, 1, 0, 0);
    }
    ctx.strokeStyle = '#222'; ctx.lineWidth = 1;
    ctx.beginPath();
    if (opts.ylabel) {
      const mx = a.right - 16, my = a.top - 4;
      ctx.moveTo(mx - 2, my); ctx.lineTo(mx, my + 2); ctx.lineTo(mx + 3, my - 2);
    } else {
      ctx.moveTo(a.left - 8, a.top - 1.5); ctx.lineTo(a.left - 1, a.top - 1.5);
    }
    ctx.stroke();
    ctx.restore();
  }
};

const wrap = document.getElementById('wrap');
PANELS.forEach((series, idx) => {
  const r = Math.floor(idx / 4), c = idx % 4;
  const xEnd = X_END[c];
  const xs = X_GRID.concat([xEnd]);
  const plotL = COL_LEFT[c], plotR = COL_RIGHT[c];
  const plotB = Math.round(ROW_BOTTOM0 + ROW_STEP * r), plotT = plotB - PLOT_H;
  const yw = Math.min(42, plotL);
  const cl = plotL - yw, ct = plotT - PADT;
  const cw = plotR - cl + PADR, ch = PADT + PLOT_H + XH;
  const cv = document.createElement('canvas');
  cv.width = cw; cv.height = ch;
  cv.style.left = cl + 'px'; cv.style.top = ct + 'px';
  cv.style.width = cw + 'px'; cv.style.height = ch + 'px';
  wrap.appendChild(cv);
  let M = 0;
  series.forEach(s => s.forEach(v => { if (v > M) M = v; }));
  const ymin = -0.05 * M, ymax = 1.05 * M;
  const xmin = -0.05 * xEnd, xmax = 1.05 * xEnd;
  const labels = Y_TICKS[idx].filter(l => parseFloat(l) <= ymax);
  const tickGrid = { display: true, drawOnChartArea: false, drawTicks: true, tickLength: 3, tickWidth: 0.8, tickColor: '#000', color: '#000' };
  const border = { display: true, color: '#000', width: 0.9 };
  new Chart(cv, {
    type: 'line',
    data: {
      datasets: series.map((ys, k) => ({
        label: NAMES[k],
        data: xs.map((x, i) => ({ x: x, y: ys[i] })),
        borderColor: COLORS[k], backgroundColor: COLORS[k], borderWidth: LW,
        borderDash: DASHED[k] ? DASH : [],
        pointRadius: 0, fill: false, cubicInterpolationMode: 'monotone',
        order: 7 - k
      }))
    },
    options: {
      responsive: false, maintainAspectRatio: false, animation: false, devicePixelRatio: 1, events: [],
      layout: { padding: { left: 0, right: PADR, top: PADT, bottom: 0 } },
      plugins: { legend: { display: false }, tooltip: { enabled: false },
                 inset: { cols: LEGEND_COLS[idx], ylabel: c % 2 === 0 } },
      scales: {
        x: { type: 'linear', position: 'bottom', min: xmin, max: xmax,
             afterBuildTicks: (ax) => { ax.ticks = X_TICKS.map(v => ({ value: v })); },
             afterFit: (ax) => { ax.height = XH; },
             ticks: { autoSkip: false, maxRotation: 0, minRotation: 0, padding: 0, color: '#000',
                      font: { family: FONT, size: 9.5 }, callback: (v) => Number(v).toFixed(2) },
             grid: tickGrid, border: border },
        y: { type: 'linear', position: 'left', min: ymin, max: ymax,
             afterBuildTicks: (ax) => { ax.ticks = labels.map(l => ({ value: parseFloat(l) })); },
             afterFit: (ax) => { ax.width = yw; },
             ticks: { autoSkip: false, padding: 1.5, color: '#000',
                      font: { family: FONT, size: 10 }, callback: (v, i) => labels[i] },
             grid: tickGrid, border: border }
      }
    },
    plugins: [insetPlugin]
  });
});
</script>
</body></html>
